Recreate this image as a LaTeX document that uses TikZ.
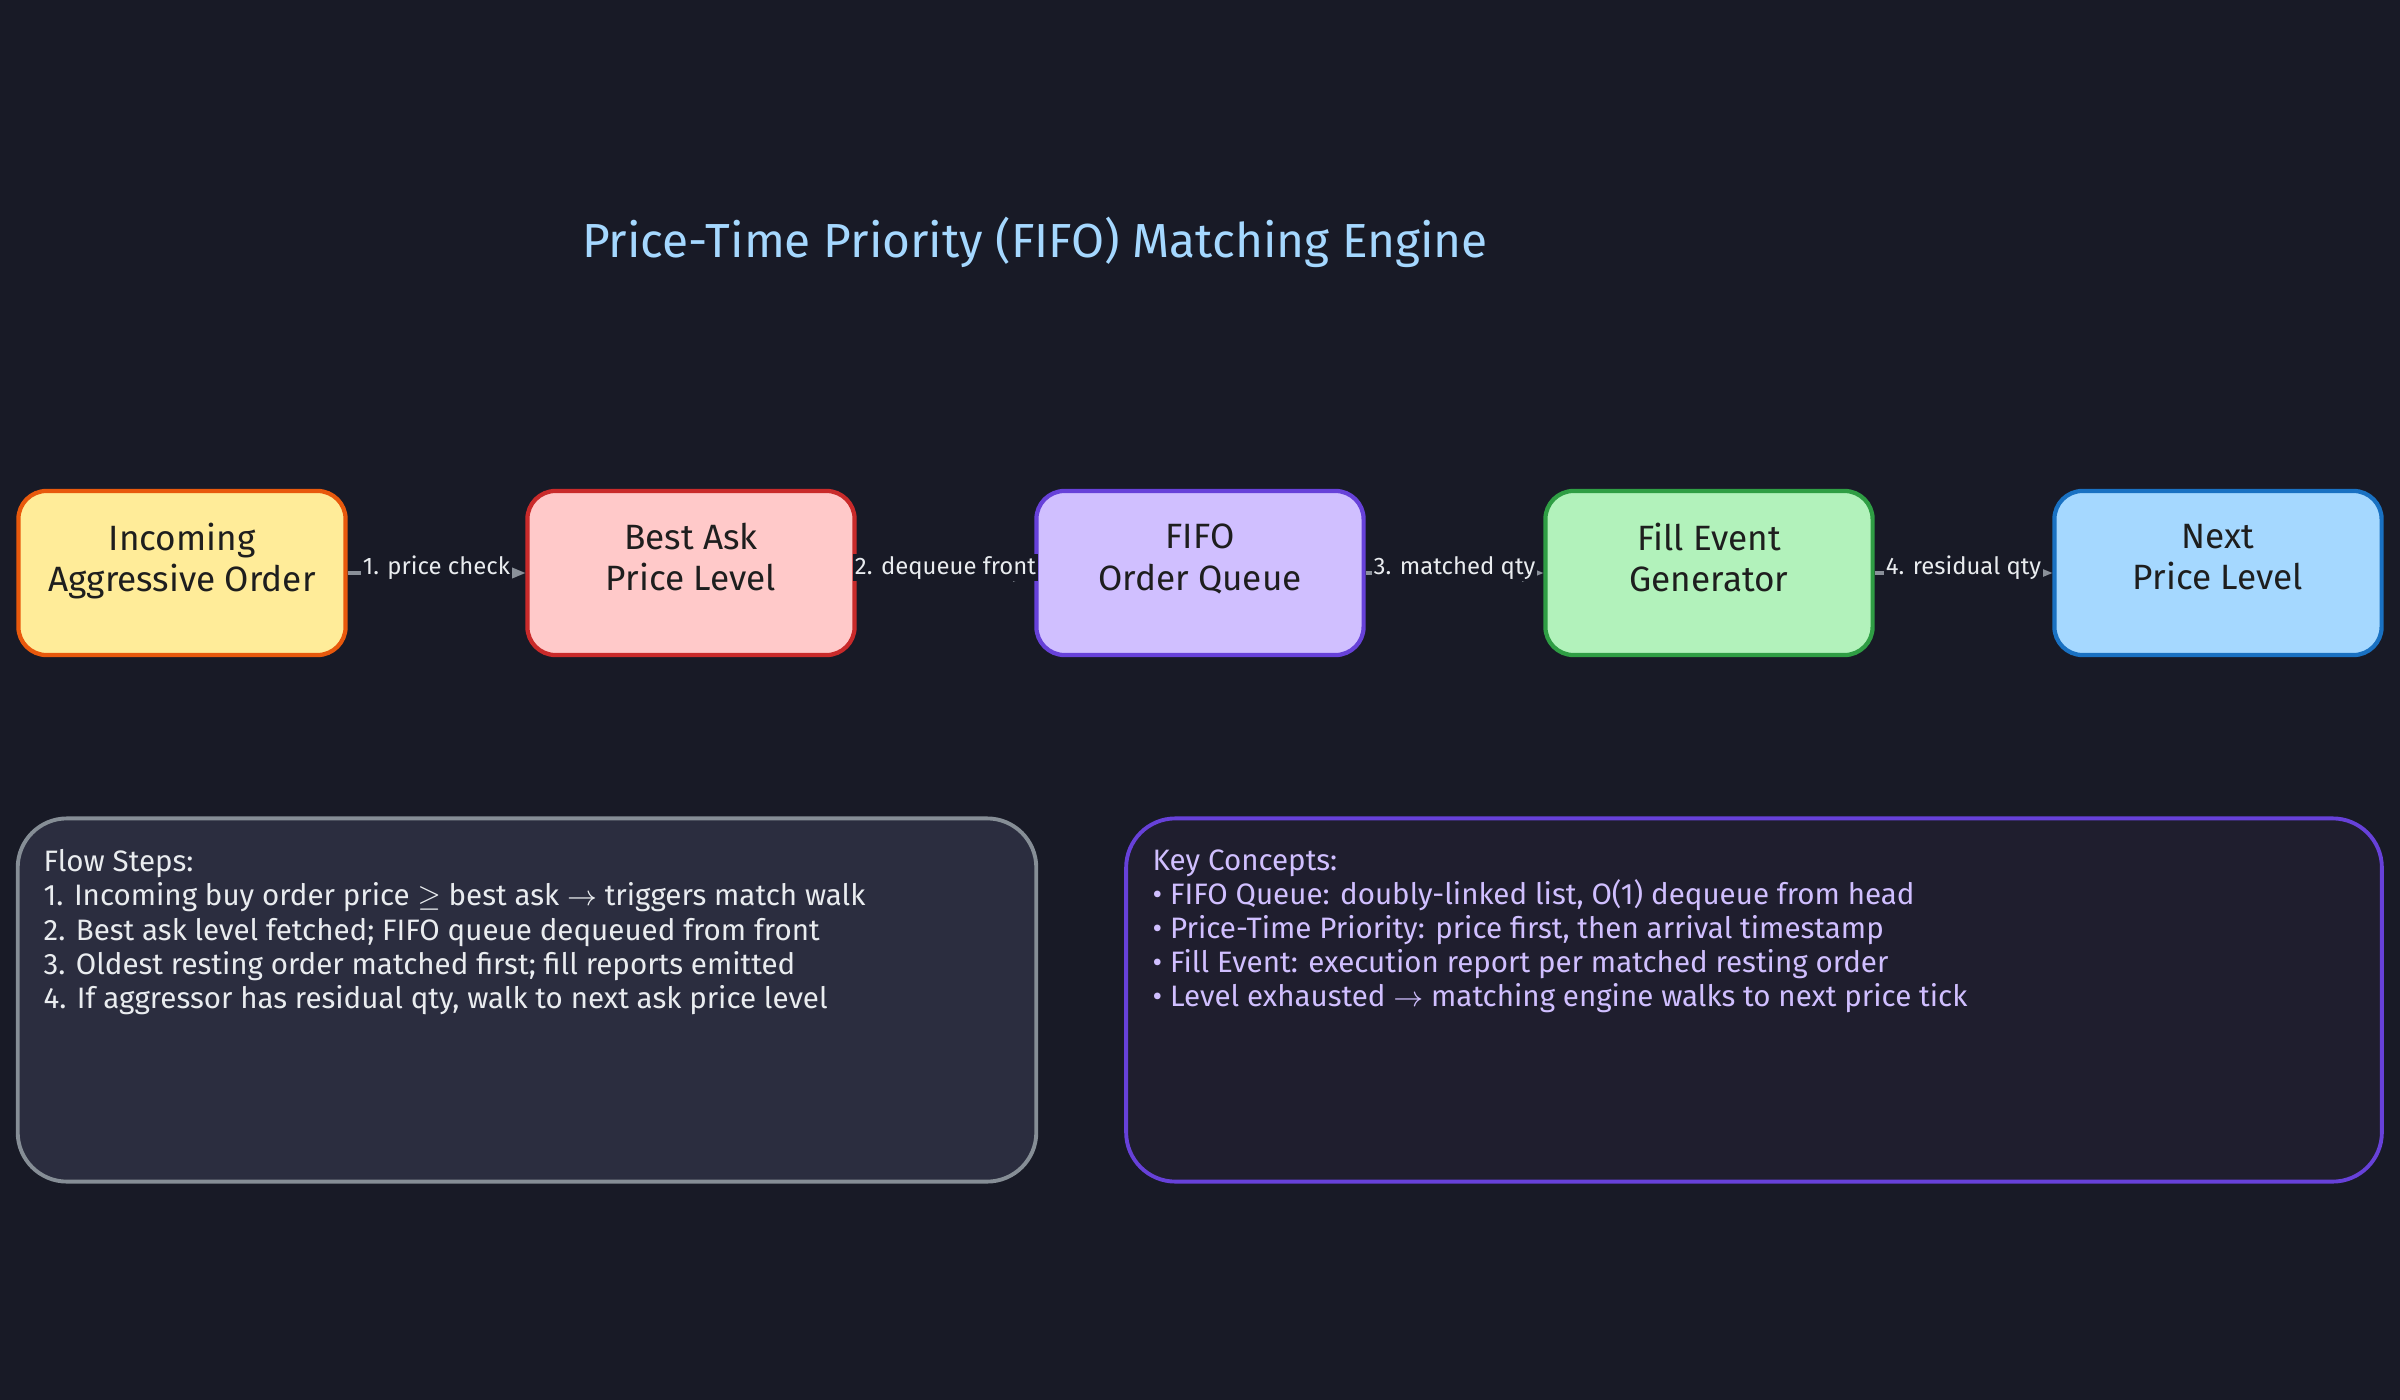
\documentclass[tikz,border=0pt]{standalone}
\usepackage{fontspec}
\setmainfont{Fira Sans}
\usetikzlibrary{arrows.meta}
\definecolor{bg}{HTML}{181A26}
\definecolor{ink}{HTML}{1E1E1E}
\definecolor{arrowgray}{HTML}{8A9099}
\definecolor{lblwhite}{HTML}{E9ECEF}
\definecolor{titleblue}{HTML}{A5D8FF}
\definecolor{lav}{HTML}{D0BFFF}
\definecolor{yellowfill}{HTML}{FFEC99}
\definecolor{orangeline}{HTML}{E8590C}
\definecolor{redfill}{HTML}{FFC9C9}
\definecolor{redline}{HTML}{C92A2A}
\definecolor{violetfill}{HTML}{D0BFFF}
\definecolor{violetline}{HTML}{6741D9}
\definecolor{greenfill}{HTML}{B2F2BB}
\definecolor{greenline}{HTML}{2F9E44}
\definecolor{bluefill}{HTML}{A5D8FF}
\definecolor{blueline}{HTML}{1971C2}
\definecolor{stepsfill}{HTML}{2B2D3F}
\definecolor{stepsline}{HTML}{868E96}
\definecolor{conceptsfill}{HTML}{1F1E2E}
\begin{document}
\begin{tikzpicture}[x=0.01cm,y=-0.01cm,
  box/.style={draw,line width=1.2pt,rounded corners=8pt,minimum width=3.27cm,
    minimum height=1.64cm,align=center,text=ink,text depth=9pt,
    font=\fontsize{10}{11.7}\selectfont},
  flow/.style={-{Stealth[length=6pt,width=5pt]},draw=arrowgray,line width=1pt},
  lbl/.style={fill=bg,inner sep=0.6pt,text=lblwhite,font=\fontsize{6.8}{8}\selectfont},
  panel/.style={draw,line width=1.1pt,rounded corners=14pt,minimum height=3.63cm},
  paneltext/.style={anchor=north west,align=left,inner sep=0pt,
    font=\fontsize{8.4}{9.7}\selectfont}]
  \fill[bg] (0,0) rectangle (2400,1400);
  \node[text=titleblue,font=\fontsize{13.6}{16}\selectfont] (title) at (1035,242)
    {Price-Time Priority (FIFO) Matching Engine};
  % pipeline
  \node[box,fill=yellowfill,draw=orangeline] (incoming) at (182,573) {Incoming\\Aggressive Order};
  \node[box,fill=redfill,draw=redline] (bestask) at (691,573) {Best Ask\\Price Level};
  \node[box,fill=violetfill,draw=violetline] (fifo) at (1200,573) {FIFO\\Order Queue};
  \node[box,fill=greenfill,draw=greenline] (fill) at (1709,573) {Fill Event\\Generator};
  \node[box,fill=bluefill,draw=blueline] (next) at (2218,573) {Next\\Price Level};
  \draw[flow] (incoming) -- node[lbl,yshift=1.5pt]{1. price check} (bestask);
  \draw[flow] (bestask) -- node[lbl,yshift=1.5pt]{2. dequeue front} (fifo);
  \draw[flow] (fifo) -- node[lbl,yshift=1.5pt]{3. matched qty} (fill);
  \draw[flow] (fill) -- node[lbl,yshift=1.5pt]{4. residual qty} (next);
  % notes
  \node[panel,minimum width=10.18cm,fill=stepsfill,draw=stepsline] (steps) at (527,1000) {};
  \node[panel,minimum width=12.55cm,fill=conceptsfill,draw=violetline] (concepts) at (1754,1000) {};
  \node[paneltext,text=lblwhite] (stepstext) at (43,849)
    {Flow Steps:\\
     1. Incoming buy order price $\geq$ best ask $\rightarrow$ triggers match walk\\
     2. Best ask level fetched; FIFO queue dequeued from front\\
     3. Oldest resting order matched first; fill reports emitted\\
     4. If aggressor has residual qty, walk to next ask price level};
  \node[paneltext,text=lav] (conceptstext) at (1152,849)
    {Key Concepts:\\
     \textbullet{} FIFO Queue: doubly-linked list, O(1) dequeue from head\\
     \textbullet{} Price-Time Priority: price first, then arrival timestamp\\
     \textbullet{} Fill Event: execution report per matched resting order\\
     \textbullet{} Level exhausted $\rightarrow$ matching engine walks to next price tick};
\end{tikzpicture}
\end{document}
